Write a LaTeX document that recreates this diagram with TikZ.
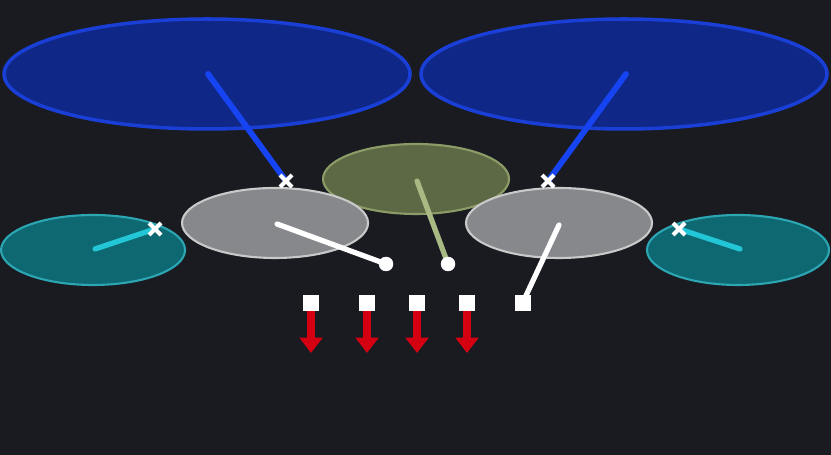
\documentclass[tikz,border=0pt]{standalone}
\usetikzlibrary{arrows.meta}
\definecolor{bgdark}{HTML}{191B21}
\definecolor{cymfill}{HTML}{0F2888}
\definecolor{cymedge}{HTML}{1A3FD6}
\definecolor{cymstick}{HTML}{1744F2}
\definecolor{tomfill}{HTML}{5D6944}
\definecolor{tomedge}{HTML}{8C9C66}
\definecolor{tomstick}{HTML}{A9B983}
\definecolor{snarefill}{HTML}{87888B}
\definecolor{snareedge}{HTML}{C9C9C9}
\definecolor{hatfill}{HTML}{0E6871}
\definecolor{hatedge}{HTML}{2CA6B2}
\definecolor{hatstick}{HTML}{22C6D6}
\definecolor{pedalred}{HTML}{D40012}
\tikzset{
  hitmark/.style={white, line width=3.4pt},
  pedalbox/.style={fill=white, draw=none},
  pedalarrow/.style={pedalred, line width=7.5pt, -{Triangle[width=19pt,length=13pt]}}
}
\begin{document}
\begin{tikzpicture}[x=0.03cm, y=-0.03cm]
            \fill[bgdark] (0,0) rectangle (831,455);

            % cymbals
            \draw[fill=cymfill, draw=cymedge, line width=3pt] (207,74) ellipse (203 and 55);
            \draw[fill=cymfill, draw=cymedge, line width=3pt] (624,74) ellipse (203 and 55);

            % hi-hats
            \draw[fill=hatfill, draw=hatedge, line width=1.8pt] (93,250) ellipse (92 and 35);
            \draw[fill=hatfill, draw=hatedge, line width=1.8pt] (738,250) ellipse (91 and 35);

            % tom
            \draw[fill=tomfill, draw=tomedge, line width=1.8pt] (416,179) ellipse (93 and 35);

            % snares
            \draw[fill=snarefill, draw=snareedge, line width=1.8pt] (275,223) ellipse (93 and 35);
            \draw[fill=snarefill, draw=snareedge, line width=1.8pt] (559,223) ellipse (93 and 35);

            % sticks
            \draw[cymstick, line width=5pt, line cap=round] (208,74) -- (286,181);
            \draw[cymstick, line width=5pt, line cap=round] (626,74) -- (548,181);
            \draw[hatstick, line width=4.5pt, line cap=round] (95,249) -- (155,229);
            \draw[hatstick, line width=4.5pt, line cap=round] (740,249) -- (679,229);
            \draw[tomstick, line width=4.5pt, line cap=round] (417,181) -- (448,264);
            \draw[white, line width=4.5pt, line cap=round] (277,224) -- (386,264);
            \draw[white, line width=4.5pt, line cap=round] (559,225) -- (523,302);

            % hit marks
            \foreach \mx/\my in {286/181, 548/181, 155/229, 679/229} {
              \draw[hitmark] (\mx-6,\my-6) -- (\mx+6,\my+6);
              \draw[hitmark] (\mx-6,\my+6) -- (\mx+6,\my-6);
            }
            \filldraw[white] (386,264) circle (7);
            \filldraw[white] (448,264) circle (7);

            % pedals
            \foreach \px in {311, 367, 417, 467} {
              \draw[pedalarrow] (\px,310) -- (\px,353);
              \fill[pedalbox] (\px-8,295) rectangle (\px+8,311);
            }
            \fill[pedalbox] (523-8,295) rectangle (523+8,311);
        \end{tikzpicture}
\end{document}
